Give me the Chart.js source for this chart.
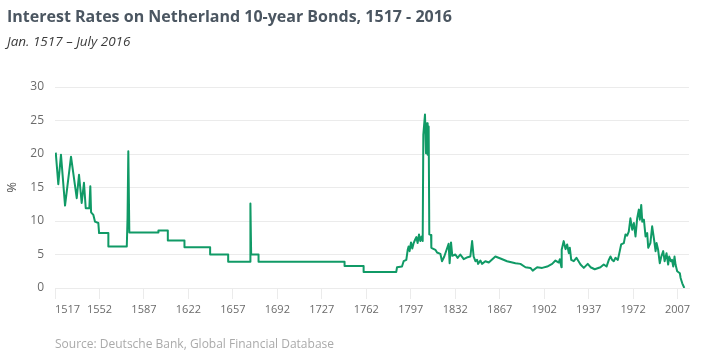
<!DOCTYPE html>
<html>
<head>
<meta charset="utf-8">
<script src="https://cdn.jsdelivr.net/npm/chart.js@4"></script>
<style>
  body { margin: 0; background: #fff; overflow: hidden; }
  #wrap { position: relative; width: 708px; height: 358px; }
  #chart { position: absolute; left: 0; top: 0; }
  .title { position: absolute; left: 7px; top: 8px; font: bold 16px 'Open Sans', sans-serif; color: #4b5661; line-height: 1; white-space: nowrap; }
  .subtitle { position: absolute; left: 7px; top: 35px; font: italic 13.5px 'Open Sans', sans-serif; color: #3c3c3c; line-height: 1; white-space: nowrap; }
  .source { position: absolute; left: 55px; top: 338px; font: 12px 'Open Sans', sans-serif; color: #aaaaaa; line-height: 1; white-space: nowrap; }
</style>
</head>
<body>
<div id="wrap">
  <canvas id="chart" width="708" height="358"></canvas>
  <div class="title">Interest Rates on Netherland 10-year Bonds, 1517 - 2016</div>
  <div class="subtitle">Jan. 1517 – July 2016</div>
  <div class="source">Source: Deutsche Bank, Global Financial Database</div>
</div>
<script>
const years = [
  1517.6, 1519.6, 1521.7, 1524.9, 1529.6, 1534.1, 1535.9, 1538.0, 1539.8, 1541.2,
  1544.0, 1544.8, 1545.4, 1547.2, 1548.5, 1551.1, 1551.7, 1559.0, 1559.0, 1573.5,
  1574.1, 1574.7, 1575.5, 1598.4, 1598.4, 1605.8, 1605.8, 1618.9, 1618.9, 1639.1,
  1639.1, 1653.3, 1653.3, 1670.6, 1670.8, 1671.4, 1677.2, 1677.2, 1744.9, 1744.9,
  1759.9, 1759.9, 1785.6, 1786.2, 1790.1, 1791.4, 1793.5, 1794.6, 1795.3, 1796.1,
  1797.2, 1798.2, 1799.3, 1800.4, 1801.4, 1802.4, 1803.5, 1804.5, 1805.6, 1806.4,
  1806.9, 1808.2, 1809.0, 1809.8, 1810.3, 1811.1, 1811.6, 1813.0, 1813.2, 1816.4,
  1817.7, 1820.3, 1821.6, 1823.4, 1826.8, 1827.6, 1828.7, 1829.7, 1832.1, 1833.9,
  1836.0, 1838.7, 1841.8, 1843.9, 1845.3, 1846.5, 1847.9, 1849.2, 1850.0, 1851.8,
  1853.1, 1855.7, 1858.4, 1863.6, 1867.6, 1872.8, 1879.4, 1883.3, 1887.3, 1891.2,
  1893.0, 1896.5, 1900.4, 1904.4, 1908.3, 1910.9, 1913.5, 1914.3, 1915.6, 1915.8,
  1917.4, 1918.8, 1920.1, 1921.4, 1922.2, 1923.3, 1925.3, 1927.4, 1930.6, 1933.2,
  1936.3, 1938.5, 1941.8, 1946.3, 1948.9, 1951.1, 1952.9, 1954.2, 1955.5, 1956.8,
  1958.1, 1960.0, 1961.5, 1962.6, 1964.7, 1966.0, 1967.3, 1968.6, 1969.9, 1971.3,
  1972.6, 1973.9, 1975.2, 1976.5, 1977.3, 1978.4, 1979.2, 1980.5, 1981.8, 1983.1,
  1983.9, 1985.6, 1987.0, 1988.3, 1989.7, 1990.5, 1991.7, 1993.0, 1994.2, 1995.7,
  1996.8, 1998.3, 1999.6, 2000.4, 2001.7, 2002.6, 2003.6, 2004.6, 2005.4, 2006.7,
  2008.8, 2009.4, 2010.7, 2012.3
];

const rates = [
  20.2, 15.5, 19.9, 12.3, 19.6, 13.4, 16.9, 12.7, 15.7, 11.9,
  11.9, 15.2, 11.3, 10.9, 9.9, 9.7, 8.2, 8.2, 6.2, 6.2,
  10.5, 20.4, 8.3, 8.3, 8.6, 8.6, 7.1, 7.1, 6.1, 6.1,
  5.0, 5.0, 3.9, 3.9, 12.6, 5.0, 5.0, 3.9, 3.9, 3.3,
  3.3, 2.4, 2.4, 3.1, 3.2, 4.0, 4.2, 5.7, 6.2, 5.5,
  6.8, 5.9, 6.7, 7.2, 7.6, 6.7, 8.0, 7.0, 7.7, 7.0,
  22.9, 25.9, 20.1, 24.6, 19.9, 24.1, 8.0, 7.9, 6.0, 5.7,
  5.3, 5.1, 4.0, 4.7, 6.6, 3.7, 6.8, 4.8, 5.0, 4.5,
  5.0, 4.3, 4.6, 4.7, 7.0, 4.7, 4.0, 4.2, 3.6, 4.1,
  3.6, 4.0, 3.8, 4.7, 4.4, 4.0, 3.7, 3.6, 3.1, 3.0,
  2.6, 3.1, 3.0, 3.2, 3.6, 4.1, 3.8, 4.3, 3.1, 5.7,
  7.0, 5.8, 6.5, 5.2, 6.0, 4.2, 4.0, 4.5, 3.5, 3.0,
  3.6, 3.1, 2.8, 3.1, 3.5, 3.2, 4.2, 4.7, 4.2, 4.0,
  4.5, 4.2, 5.5, 6.5, 6.7, 8.0, 7.8, 8.4, 10.4, 8.7,
  9.7, 7.7, 10.4, 11.7, 10.2, 12.4, 9.9, 10.2, 7.7, 8.2,
  6.0, 6.7, 9.2, 7.5, 5.5, 6.7, 5.7, 3.7, 4.7, 5.5,
  4.0, 5.2, 3.5, 4.7, 4.0, 4.2, 3.2, 4.7, 3.5, 2.5,
  2.2, 1.5, 0.7, 0.0
];

const xTickYears = [1517, 1552, 1587, 1622, 1657, 1692, 1727, 1762, 1797, 1832, 1867, 1902, 1937, 1972, 2007];
const yTickValues = [0, 5, 10, 15, 20, 25, 30];

const axisColor = '#6b6b6b';
const gridColor = '#ebebeb';
const lineColor = '#109a66';

// first year label sits to the right of its tick, like the original
const firstLabelLeft = {
  id: 'firstLabelLeft',
  beforeDraw(chart) {
    const items = chart.scales.x.getLabelItems();
    if (items.length) items[0].options.textAlign = 'left';
  }
};

new Chart(document.getElementById('chart').getContext('2d'), {
  type: 'line',
  data: {
    datasets: [{
      data: years.map((y, i) => ({ x: y, y: rates[i] })),
      borderColor: lineColor,
      borderWidth: 2,
      pointRadius: 0,
      tension: 0,
      borderJoinStyle: 'round',
      fill: false
    }]
  },
  options: {
    responsive: false,
    animation: false,
    devicePixelRatio: 1,
    layout: { padding: { top: 87, right: 19, bottom: 30, left: 0 } },
    plugins: {
      legend: { display: false },
      tooltip: { enabled: false }
    },
    scales: {
      x: {
        type: 'linear',
        min: 1517,
        max: 2016,
        afterBuildTicks: scale => { scale.ticks = xTickYears.map(v => ({ value: v })); },
        afterFit: scale => { scale.height = 40; },
        ticks: {
          autoSkip: false,
          maxRotation: 0,
          padding: 4,
          color: axisColor,
          font: { family: 'Open Sans', size: 11 },
          callback: value => String(value)
        },
        grid: { drawOnChartArea: false, tickLength: 11, color: gridColor },
        border: { color: gridColor }
      },
      y: {
        min: 0,
        max: 30,
        afterBuildTicks: scale => { scale.ticks = yTickValues.map(v => ({ value: v })); },
        afterFit: scale => { scale.width = 55; },
        ticks: {
          padding: 11,
          color: axisColor,
          font: { family: 'Open Sans', size: 12 }
        },
        grid: { drawTicks: false, color: gridColor },
        border: { display: false },
        title: {
          display: true,
          text: '%',
          color: '#555',
          font: { family: 'Open Sans', size: 13 },
          padding: { top: 4, bottom: 0 }
        }
      }
    }
  },
  plugins: [firstLabelLeft]
});
</script>
</body>
</html>
